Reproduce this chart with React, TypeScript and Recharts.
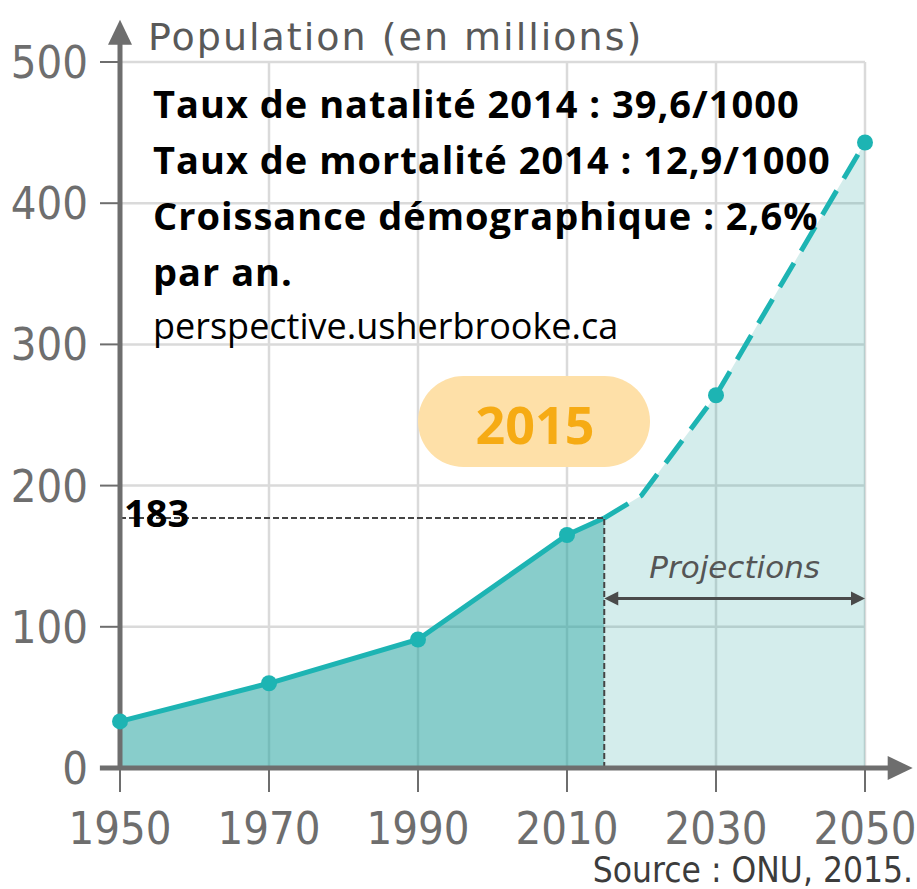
import React from "react";
import { ComposedChart, Area, XAxis, YAxis, CartesianGrid, ReferenceLine } from "recharts";

const HIST_YEARS = [1950, 1970, 1990, 2010, 2015];
const HIST_POP = [33, 60, 91, 165, 177];
const PROJ_YEARS = [2015, 2020, 2030, 2050];
const PROJ_POP = [177, 193, 264, 443];
const DOT_YEARS = [1950, 1970, 1990, 2010, 2030, 2050];
const X_TICKS = [1950, 1970, 1990, 2010, 2030, 2050];
const Y_TICKS = [0, 100, 200, 300, 400, 500];
const MARK_YEAR = 2015;
const MARK_POP = 177;
const MARK_LABEL = "183";
const PROJ_ARROW_Y = 120;
const STATS = [
  "Taux de natalité 2014 : 39,6/1000",
  "Taux de mortalité 2014 : 12,9/1000",
  "Croissance démographique : 2,6%",
  "par an.",
];

const TEAL = "#1db4b3";
const AXIS = "#6e6e6e";
const TICK_FONT = "'DejaVu Sans Condensed', sans-serif";
const LABEL_FONT = "'DejaVu Sans', sans-serif";
const BOLD_FONT = "'Open Sans', 'Noto Sans', sans-serif";

function buildRows() {
  const byYear = new Map<number, { year: number; hist?: number; proj?: number }>();
  HIST_YEARS.forEach((y, i) => {
    const r = byYear.get(y) ?? { year: y };
    r.hist = HIST_POP[i];
    byYear.set(y, r);
  });
  PROJ_YEARS.forEach((y, i) => {
    const r = byYear.get(y) ?? { year: y };
    r.proj = PROJ_POP[i];
    byYear.set(y, r);
  });
  return [...byYear.values()].sort((a, b) => a.year - b.year);
}

const rows = buildRows();

function renderDot(props: any) {
  const { cx, cy, payload, index } = props;
  if (cx == null || cy == null || !DOT_YEARS.includes(payload.year)) return <g key={`d${index}`} />;
  return <circle key={`d${index}`} cx={cx} cy={cy} r={8} fill={TEAL} />;
}

// line with a filled triangle at one or both ends
function arrowShape(head: number, half: number, both: boolean) {
  return (p: any) => {
    const { x1, y1, x2, y2, stroke, strokeWidth } = p;
    const len = Math.hypot(x2 - x1, y2 - y1) || 1;
    const ux = (x2 - x1) / len;
    const uy = (y2 - y1) / len;
    const tri = (tx: number, ty: number, dx: number, dy: number) => {
      const bx = tx - dx * head;
      const by = ty - dy * head;
      return `${tx},${ty} ${bx - dy * half},${by + dx * half} ${bx + dy * half},${by - dx * half}`;
    };
    return (
      <g>
        <line
          x1={both ? x1 + ux * (head - 2) : x1} y1={both ? y1 + uy * (head - 2) : y1}
          x2={x2 - ux * (head - 2)} y2={y2 - uy * (head - 2)}
          stroke={stroke} strokeWidth={strokeWidth}
        />
        <polygon points={tri(x2, y2, ux, uy)} fill={stroke} />
        {both && <polygon points={tri(x1, y1, -ux, -uy)} fill={stroke} />}
      </g>
    );
  };
}

export default function App() {
  return (
    <div style={{ position: "absolute", left: 0, top: 0, width: 917, height: 889, background: "#fff" }}>
      <ComposedChart width={917} height={889} data={rows} margin={{ top: 62, right: 52, left: 0, bottom: 0 }}>
        <CartesianGrid stroke="#dadada" strokeWidth={2.5} />
        <XAxis
          type="number" dataKey="year" domain={[1950, 2050]} ticks={X_TICKS} height={121}
          axisLine={false} tickSize={24} tickMargin={20}
          tickLine={{ stroke: AXIS, strokeWidth: 2 }}
          tick={{ fontSize: 45, fill: AXIS, fontFamily: TICK_FONT }}
        />
        <YAxis
          type="number" domain={[0, 500]} ticks={Y_TICKS} width={120}
          axisLine={false} tickSize={20} tickMargin={12}
          tickLine={{ stroke: AXIS, strokeWidth: 2 }}
          tick={{ fontSize: 45, fill: AXIS, fontFamily: TICK_FONT }}
        />
        <Area
          dataKey="proj" type="linear" stroke={TEAL} strokeWidth={5} strokeDasharray="28 14"
          fill="#27a4a0" fillOpacity={0.2} dot={renderDot} activeDot={false} isAnimationActive={false}
        />
        <Area
          dataKey="hist" type="linear" stroke={TEAL} strokeWidth={5}
          fill="#27a4a0" fillOpacity={0.55} dot={renderDot} activeDot={false} isAnimationActive={false}
        />
        <ReferenceLine
          segment={[{ x: 1950, y: MARK_POP }, { x: MARK_YEAR, y: MARK_POP }]}
          stroke="#444" strokeWidth={2} strokeDasharray="6 3" ifOverflow="visible"
          label={{
            content: (p: any) => (
              <text x={p.viewBox.x + 4} y={p.viewBox.y + 9} fontSize={38} fontWeight={700} fontFamily={BOLD_FONT} fill="#000">
                {MARK_LABEL}
              </text>
            ),
          }}
        />
        <ReferenceLine
          segment={[{ x: MARK_YEAR, y: 0 }, { x: MARK_YEAR, y: MARK_POP }]}
          stroke="#444" strokeWidth={2} strokeDasharray="6 3" ifOverflow="visible"
        />
        <ReferenceLine
          segment={[{ x: MARK_YEAR, y: PROJ_ARROW_Y }, { x: 2050, y: PROJ_ARROW_Y }]}
          stroke="#4a4a4a" strokeWidth={3} ifOverflow="visible"
          shape={arrowShape(14, 7, true)}
          label={{
            content: (p: any) => (
              <text
                x={p.viewBox.x + p.viewBox.width / 2} y={p.viewBox.y - 21} textAnchor="middle"
                fontSize={31} fontStyle="italic" fontFamily={LABEL_FONT} fill="#555"
              >
                Projections
              </text>
            ),
          }}
        />
        <ReferenceLine
          segment={[{ x: 1950, y: 0 }, { x: 1950, y: 530 }]}
          stroke={AXIS} strokeWidth={5} ifOverflow="visible" shape={arrowShape(25, 12, false)}
        />
        <ReferenceLine
          segment={[{ x: 1947.3, y: 0 }, { x: 2056.4, y: 0 }]}
          stroke={AXIS} strokeWidth={5} ifOverflow="visible" shape={arrowShape(25, 12, false)}
        />
      </ComposedChart>
      <svg width={917} height={889} style={{ position: "absolute", left: 0, top: 0, pointerEvents: "none" }}>
        <text x={148} y={50} fontSize={38} letterSpacing={2} fontFamily={LABEL_FONT} fill="#595959">
          Population (en millions)
        </text>
        {STATS.map((s, i) => (
          <text key={s} x={153} y={118 + i * 56} fontSize={38} letterSpacing={1} fontWeight={700} fontFamily={BOLD_FONT} fill="#000">
            {s}
          </text>
        ))}
        <text x={153} y={339} fontSize={36} fontFamily={BOLD_FONT} fill="#000">
          perspective.usherbrooke.ca
        </text>
        <rect x={418} y={376} width={232} height={91} rx={45.5} fill="#fee0a8" />
        <text x={535} y={444} textAnchor="middle" fontSize={52} fontWeight={700} fontFamily={BOLD_FONT} fill="#f6ab14">
          2015
        </text>
        <text x={913} y={882} textAnchor="end" fontSize={35} fontFamily={TICK_FONT} fill="#3c3c3c">
          Source : ONU, 2015.
        </text>
      </svg>
    </div>
  );
}
